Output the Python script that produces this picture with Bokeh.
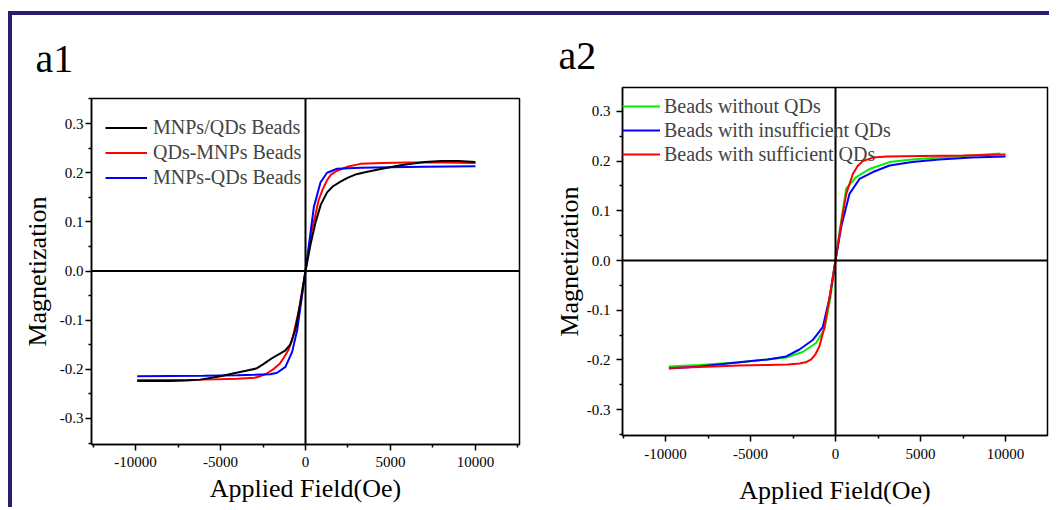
from bokeh.plotting import figure
from bokeh.layouts import row
from bokeh.models import Span, Legend, LegendItem, FixedTicker
from bokeh.embed import file_html
from bokeh.resources import INLINE

FONT = "Liberation Serif"

# ---- axis ticks ----
x_ticks = [-10000, -5000, 0, 5000, 10000]
x_minor = [-12500, -7500, -2500, 2500, 7500, 12500]
x_tick_labels = ["-10000", "-5000", "0", "5000", "10000"]
y_ticks = [-0.3, -0.2, -0.1, 0.0, 0.1, 0.2, 0.3]
y_minor = [-0.35, -0.25, -0.15, -0.05, 0.05, 0.15, 0.25, 0.35]
y_tick_labels = ["-0.3", "-0.2", "-0.1", "0.0", "0.1", "0.2", "0.3"]

# ---- panel a1 ----
a1_names = ["MNPs/QDs Beads", "QDs-MNPs Beads", "MNPs-QDs Beads"]
a1_colors = ["#000000", "#ff0000", "#0000ff"]

a1_black_x = [-9900, -8000, -7000, -6200, -5000, -4200, -3500, -2900, -2500, -2000, -1500, -1200,
              -900, -600, -300, 0, 300, 600, 900, 1270, 1600, 2060, 2500, 3000, 3500, 4500, 5600,
              7000, 8000, 9000, 10000]
a1_black_y = [-0.224, -0.224, -0.223, -0.221, -0.214, -0.208, -0.203, -0.1985, -0.190, -0.178,
              -0.168, -0.162, -0.150, -0.120, -0.065, 0.0, 0.055, 0.100, 0.135, 0.160, 0.172,
              0.182, 0.190, 0.197, 0.201, 0.208, 0.215, 0.222, 0.224, 0.224, 0.222]

a1_red_x = [-9900, -8000, -6000, -4000, -3000, -2650, -2300, -1860, -1500, -1270, -1000, -780,
            -390, 0, 390, 780, 1000, 1270, 1500, 1860, 2450, 3240, 4500, 6000, 8000, 10000]
a1_red_y = [-0.222, -0.222, -0.221, -0.219, -0.217, -0.214, -0.209, -0.199, -0.188, -0.176,
            -0.160, -0.140, -0.080, 0.0, 0.085, 0.145, 0.165, 0.185, 0.196, 0.204, 0.212, 0.218,
            0.220, 0.221, 0.221, 0.220]

a1_blue_x = [-9900, -8000, -6000, -4000, -3000, -2060, -1670, -1180, -780, -490, 0, 490, 880,
             1270, 1860, 3240, 5000, 7000, 10000]
a1_blue_y = [-0.214, -0.2135, -0.213, -0.212, -0.211, -0.210, -0.207, -0.195, -0.164, -0.120,
             0.0, 0.130, 0.180, 0.200, 0.208, 0.210, 0.211, 0.212, 0.213]

# ---- panel a2 ----
a2_names = ["Beads without QDs", "Beads with insufficient QDs", "Beads with sufficient QDs"]
a2_colors = ["#00ee00", "#0000ff", "#ff0000"]

a2_green_x = [-9800, -8000, -5650, -4000, -2900, -1930, -1140, -650, -300, 0, 300, 630, 1220,
              2000, 3180, 4500, 6100, 8000, 9700]
a2_green_y = [-0.213, -0.210, -0.2045, -0.199, -0.195, -0.184, -0.166, -0.138, -0.075, 0.0,
              0.072, 0.145, 0.168, 0.184, 0.198, 0.203, 0.207, 0.211, 0.215]

a2_blue_x = [-9800, -8000, -5650, -4000, -2900, -2120, -1340, -750, -350, 0, 350, 820, 1410,
             2200, 3180, 4500, 6100, 8000, 10000]
a2_blue_y = [-0.217, -0.213, -0.2045, -0.199, -0.193, -0.179, -0.160, -0.134, -0.075, 0.0,
             0.070, 0.134, 0.164, 0.178, 0.191, 0.198, 0.203, 0.207, 0.209]

a2_red_x = [-9800, -8000, -5650, -4000, -2800, -2120, -1700, -1430, -1200, -940, -650, -350, 0,
            330, 630, 1020, 1300, 1610, 2200, 3000, 5000, 7500, 10000]
a2_red_y = [-0.216, -0.214, -0.211, -0.210, -0.209, -0.207, -0.204, -0.199, -0.190, -0.172,
            -0.134, -0.074, 0.0, 0.074, 0.134, 0.174, 0.190, 0.200, 0.207, 0.209, 0.210, 0.211,
            0.213]


def make_panel(title, t_offset, t_standoff, fw, fh, bl, br, bt, bb, xr, yr,
               ylab_standoff, xlab_standoff, ytick_standoff, xtick_standoff):
    p = figure(frame_width=fw, frame_height=fh, x_range=xr, y_range=yr,
               min_border_left=bl, min_border_right=br, min_border_top=bt, min_border_bottom=bb,
               output_backend="svg", toolbar_location=None, title=title)
    p.frame_align = False
    p.title.text_font = FONT
    p.title.text_font_size = "40px"
    p.title.text_font_style = "normal"
    p.title.text_color = "black"
    p.title.align = "left"
    p.title.offset = t_offset
    p.title.standoff = t_standoff
    p.background_fill_color = "white"
    p.border_fill_color = "white"
    p.outline_line_color = "black"
    p.outline_line_width = 1.5
    p.outline_line_alpha = 1
    p.grid.visible = False
    for ax, ticks, minor, labels in ((p.xaxis[0], x_ticks, x_minor, x_tick_labels),
                                     (p.yaxis[0], y_ticks, y_minor, y_tick_labels)):
        ax.ticker = FixedTicker(ticks=ticks, minor_ticks=minor)
        ax.major_label_overrides = {t: l for t, l in zip(ticks, labels)}
        ax.axis_line_color = "black"
        ax.axis_line_width = 1.5
        ax.major_tick_line_color = "black"
        ax.major_tick_line_width = 1.5
        ax.minor_tick_line_color = "black"
        ax.minor_tick_line_width = 1.5
        ax.major_tick_in = 0
        ax.major_tick_out = 6
        ax.minor_tick_in = 0
        ax.minor_tick_out = 3
        ax.major_label_text_font = FONT
        ax.major_label_text_font_size = "15px"
        ax.major_label_text_color = "black"
        ax.axis_label_text_font = FONT
        ax.axis_label_text_font_size = "26px"
        ax.axis_label_text_font_style = "normal"
        ax.axis_label_text_color = "black"
    p.xaxis.axis_label = "Applied Field(Oe)"
    p.yaxis.axis_label = "Magnetization"
    p.yaxis.axis_label_standoff = ylab_standoff
    p.xaxis.axis_label_standoff = xlab_standoff
    p.yaxis.major_label_standoff = ytick_standoff
    p.xaxis.major_label_standoff = xtick_standoff
    p.add_layout(Span(location=0, dimension="width", line_color="black", line_width=2))
    p.add_layout(Span(location=0, dimension="height", line_color="black", line_width=2))
    return p


# panel a1
p1 = make_panel("a1", -56, 36, 428, 346, 79, 32, 82, 59, (-12590, 12590), (-0.353, 0.351),
                5, 4, 2, 6)
r1_red = p1.line(a1_red_x, a1_red_y, line_color=a1_colors[1], line_width=2)
r1_blue = p1.line(a1_blue_x, a1_blue_y, line_color=a1_colors[2], line_width=2)
r1_black = p1.line(a1_black_x, a1_black_y, line_color=a1_colors[0], line_width=2)
leg1 = Legend(items=[LegendItem(label=a1_names[0], renderers=[r1_black]),
                     LegendItem(label=a1_names[1], renderers=[r1_red]),
                     LegendItem(label=a1_names[2], renderers=[r1_blue])],
              location=(14, 254), glyph_width=42, glyph_height=25, label_height=25,
              spacing=0, padding=0, margin=0, label_standoff=6,
              border_line_alpha=0, background_fill_alpha=0,
              label_text_font=FONT, label_text_font_size="20px")
p1.add_layout(leg1, "center")

# panel a2
p2 = make_panel("a2", -64, 20, 425, 348, 71, 2, 72, 67, (-12530, 12470), (-0.352, 0.348),
                0, 14, 6, 7)
r2_green = p2.line(a2_green_x, a2_green_y, line_color=a2_colors[0], line_width=2)
r2_blue = p2.line(a2_blue_x, a2_blue_y, line_color=a2_colors[1], line_width=2)
r2_red = p2.line(a2_red_x, a2_red_y, line_color=a2_colors[2], line_width=2)
leg2 = Legend(items=[LegendItem(label=a2_names[0], renderers=[r2_green]),
                     LegendItem(label=a2_names[1], renderers=[r2_blue]),
                     LegendItem(label=a2_names[2], renderers=[r2_red])],
              location=(0, 269), glyph_width=38, glyph_height=24, label_height=24,
              spacing=0, padding=0, margin=0, label_standoff=4,
              border_line_alpha=0, background_fill_alpha=0,
              label_text_font=FONT, label_text_font_size="20px")
p2.add_layout(leg2, "center")

layout = row(p1, p2, margin=(11, 0, 0, 8),
             styles={"border-top": "4px solid #2a1f6e", "border-left": "4px solid #2a1f6e"})

open("out.html", "w").write(file_html(layout, INLINE))
